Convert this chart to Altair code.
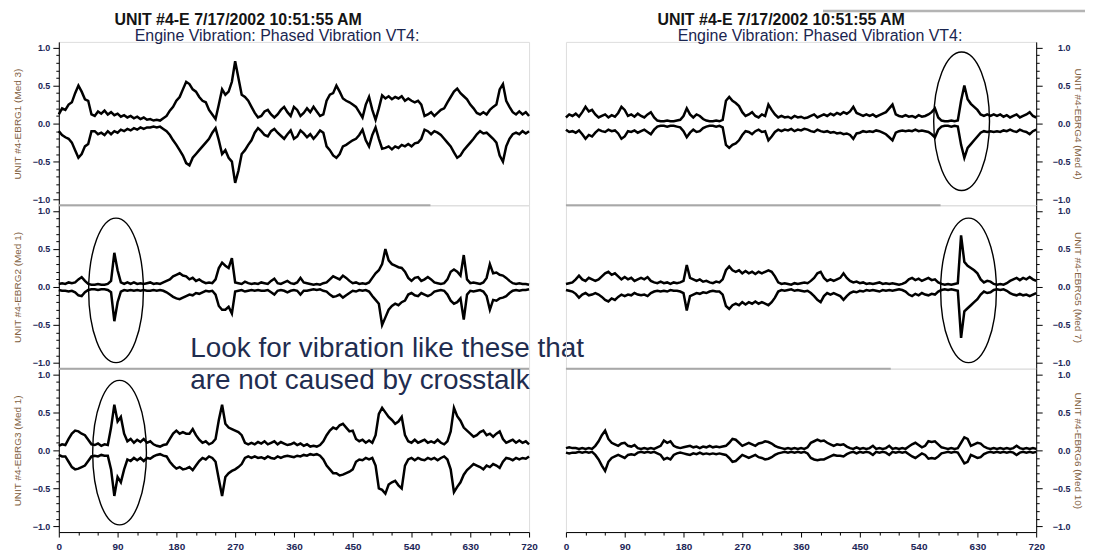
import altair as alt
import pandas as pd

# ---------------- data (envelopes, every 5 degrees) ----------------
DEG = list(range(0, 721, 5))

U1 = [0.12, 0.2, 0.18, 0.25, 0.28, 0.4, 0.5, 0.42, 0.32, 0.3, 0.12, 0.1,
      0.16, 0.13, 0.17, 0.12, 0.15, 0.11, 0.13, 0.09, 0.11, 0.08, 0.1, 0.07,
      0.09, 0.06, 0.08, 0.05, 0.06, 0.04, 0.05, 0.04, 0.07, 0.1, 0.17, 0.22,
      0.3, 0.35, 0.45, 0.55, 0.52, 0.45, 0.42, 0.35, 0.3, 0.28, 0.18, 0.12,
      0.06, 0.25, 0.45, 0.38, 0.42, 0.55, 0.82, 0.6, 0.38, 0.35, 0.3, 0.22,
      0.14, 0.08, 0.1, 0.16, 0.18, 0.12, 0.08, 0.12, 0.18, 0.22, 0.15, 0.1,
      0.22, 0.18, 0.1, 0.14, 0.2, 0.15, 0.22, 0.16, 0.1, 0.12, 0.3, 0.38,
      0.4, 0.5, 0.42, 0.33, 0.3, 0.28, 0.25, 0.22, 0.15, 0.08, 0.25, 0.35,
      0.18, 0.05, 0.2, 0.37, 0.33, 0.36, 0.32, 0.35, 0.33, 0.36, 0.3, 0.33,
      0.3, 0.28, 0.3, 0.25, 0.1, 0.12, 0.15, 0.1, 0.14, 0.18, 0.2, 0.28,
      0.35, 0.42, 0.46, 0.4, 0.36, 0.32, 0.25, 0.2, 0.14, 0.12, 0.15, 0.12,
      0.18, 0.22, 0.25, 0.45, 0.52, 0.3, 0.22, 0.15, 0.12, 0.16, 0.12, 0.15,
      0.1]
L1 = [-0.1, -0.15, -0.18, -0.2, -0.25, -0.35, -0.45, -0.4, -0.3, -0.27, -0.1, -0.1,
      -0.14, -0.12, -0.15, -0.1, -0.14, -0.1, -0.12, -0.08, -0.1, -0.07, -0.09, -0.06,
      -0.08, -0.05, -0.07, -0.05, -0.05, -0.04, -0.05, -0.04, -0.07, -0.1, -0.15, -0.22,
      -0.28, -0.35, -0.42, -0.52, -0.55, -0.45, -0.4, -0.35, -0.3, -0.25, -0.2, -0.12,
      -0.06, -0.22, -0.4, -0.35, -0.45, -0.5, -0.78, -0.62, -0.4, -0.35, -0.28, -0.22,
      -0.12, -0.06, -0.1, -0.15, -0.17, -0.1, -0.07, -0.12, -0.16, -0.2, -0.14, -0.09,
      -0.2, -0.17, -0.09, -0.13, -0.18, -0.14, -0.2, -0.15, -0.09, -0.12, -0.3, -0.35,
      -0.42, -0.45, -0.4, -0.3, -0.28, -0.25, -0.22, -0.2, -0.15, -0.08, -0.22, -0.3,
      -0.15, -0.05, -0.2, -0.33, -0.32, -0.3, -0.34, -0.3, -0.32, -0.28, -0.3, -0.27,
      -0.3, -0.26, -0.25, -0.2, -0.08, -0.1, -0.14, -0.1, -0.12, -0.15, -0.2, -0.25,
      -0.3, -0.38, -0.45, -0.42, -0.35, -0.3, -0.25, -0.2, -0.14, -0.1, -0.13, -0.12,
      -0.16, -0.2, -0.25, -0.42, -0.5, -0.3, -0.2, -0.14, -0.12, -0.14, -0.1, -0.13,
      -0.1]

U2 = [0.04, 0.05, 0.04, 0.06, 0.05, 0.06, 0.1, 0.13, 0.08, 0.04, 0.03, 0.03,
      0.04, 0.03, 0.03, 0.04, 0.08, 0.45, 0.22, 0.06, 0.04, 0.06, 0.04, 0.06,
      0.04, 0.05, 0.04, 0.05, 0.06, 0.04, 0.05, 0.04, 0.06, 0.08, 0.1, 0.14,
      0.16, 0.18, 0.15, 0.14, 0.1, 0.12, 0.08, 0.1, 0.07, 0.05, 0.06, 0.05,
      0.1, 0.25, 0.32, 0.28, 0.25, 0.38, 0.06, 0.05, 0.04, 0.07, 0.05, 0.04,
      0.05, 0.04, 0.06, 0.05, 0.04, 0.08, 0.11, 0.05, 0.04, 0.06, 0.08, 0.05,
      0.04, 0.06, 0.12, 0.06, 0.05, 0.04, 0.03, 0.04, 0.03, 0.05, 0.06, 0.1,
      0.14, 0.12, 0.1, 0.15, 0.12, 0.08, 0.05, 0.06, 0.04, 0.05, 0.04, 0.06,
      0.12, 0.18, 0.22, 0.3, 0.5, 0.35, 0.3, 0.28, 0.26, 0.25, 0.2, 0.12,
      0.08, 0.12, 0.13, 0.08, 0.1, 0.13, 0.1, 0.06, 0.05, 0.04, 0.05, 0.1,
      0.2, 0.23, 0.2, 0.15, 0.42, 0.1, 0.05, 0.06, 0.05, 0.04, 0.06, 0.12,
      0.3, 0.18, 0.19, 0.16, 0.15, 0.12, 0.08, 0.05, 0.04, 0.05, 0.04, 0.04,
      0.03]
L2 = [-0.04, -0.05, -0.05, -0.06, -0.05, -0.07, -0.11, -0.12, -0.07, -0.04, -0.03, -0.03,
      -0.04, -0.03, -0.03, -0.04, -0.07, -0.45, -0.2, -0.06, -0.04, -0.05, -0.04, -0.05,
      -0.04, -0.05, -0.04, -0.05, -0.05, -0.04, -0.05, -0.04, -0.05, -0.07, -0.1, -0.13,
      -0.15, -0.16, -0.14, -0.12, -0.1, -0.11, -0.08, -0.09, -0.07, -0.05, -0.06, -0.05,
      -0.1, -0.25, -0.3, -0.3, -0.26, -0.35, -0.06, -0.05, -0.04, -0.06, -0.05, -0.04,
      -0.05, -0.04, -0.05, -0.05, -0.04, -0.07, -0.1, -0.05, -0.04, -0.05, -0.07, -0.05,
      -0.04, -0.05, -0.1, -0.05, -0.05, -0.04, -0.03, -0.04, -0.03, -0.05, -0.06, -0.1,
      -0.13, -0.12, -0.1, -0.14, -0.11, -0.08, -0.05, -0.06, -0.04, -0.05, -0.04, -0.06,
      -0.12, -0.17, -0.22, -0.5, -0.4, -0.3, -0.25, -0.22, -0.24, -0.2, -0.18, -0.1,
      -0.08, -0.11, -0.12, -0.08, -0.1, -0.12, -0.1, -0.06, -0.05, -0.04, -0.05, -0.1,
      -0.18, -0.22, -0.2, -0.15, -0.43, -0.1, -0.05, -0.06, -0.05, -0.04, -0.06, -0.12,
      -0.3, -0.17, -0.18, -0.15, -0.14, -0.12, -0.08, -0.05, -0.04, -0.05, -0.04, -0.04,
      -0.03]

U3 = [0.06, 0.08, 0.07, 0.15, 0.22, 0.26, 0.25, 0.22, 0.2, 0.14, 0.08, 0.07,
      0.09, 0.06, 0.08, 0.07, 0.3, 0.6, 0.38, 0.44, 0.22, 0.12, 0.15, 0.1,
      0.14, 0.11, 0.15, 0.1, 0.12, 0.08, 0.06, 0.05, 0.07, 0.08, 0.15, 0.22,
      0.26, 0.22, 0.24, 0.22, 0.22, 0.28, 0.2, 0.14, 0.1, 0.12, 0.08, 0.1,
      0.15, 0.4, 0.6, 0.35, 0.3, 0.28, 0.26, 0.24, 0.2, 0.1, 0.08, 0.1,
      0.08, 0.11, 0.09, 0.12, 0.08, 0.1, 0.12, 0.08, 0.11, 0.09, 0.07, 0.08,
      0.1, 0.07, 0.09, 0.06, 0.08, 0.05, 0.06, 0.05, 0.07, 0.12, 0.2, 0.26,
      0.3, 0.28, 0.33, 0.35, 0.3, 0.25, 0.26, 0.15, 0.12, 0.14, 0.1, 0.13,
      0.1, 0.2, 0.48, 0.56, 0.5, 0.44, 0.4, 0.35, 0.38, 0.44, 0.2, 0.12,
      0.1, 0.14, 0.1, 0.12, 0.14, 0.1, 0.12, 0.1, 0.14, 0.1, 0.08, 0.12,
      0.25, 0.56, 0.45, 0.39, 0.3, 0.26, 0.22, 0.18, 0.2, 0.24, 0.26, 0.2,
      0.22, 0.18, 0.22, 0.25, 0.15, 0.1, 0.12, 0.14, 0.1, 0.13, 0.1, 0.12,
      0.08]
L3 = [-0.06, -0.08, -0.08, -0.15, -0.22, -0.25, -0.24, -0.22, -0.2, -0.14, -0.08, -0.07,
      -0.08, -0.06, -0.07, -0.07, -0.25, -0.6, -0.35, -0.42, -0.25, -0.12, -0.14, -0.1,
      -0.13, -0.1, -0.14, -0.1, -0.11, -0.08, -0.06, -0.05, -0.07, -0.08, -0.15, -0.2,
      -0.24, -0.22, -0.25, -0.24, -0.22, -0.26, -0.2, -0.14, -0.1, -0.12, -0.08, -0.1,
      -0.15, -0.38, -0.6, -0.35, -0.3, -0.27, -0.25, -0.22, -0.18, -0.1, -0.08, -0.1,
      -0.08, -0.1, -0.09, -0.11, -0.08, -0.1, -0.11, -0.08, -0.1, -0.08, -0.07, -0.08,
      -0.09, -0.07, -0.08, -0.06, -0.07, -0.05, -0.06, -0.05, -0.07, -0.12, -0.2, -0.25,
      -0.3, -0.3, -0.33, -0.32, -0.3, -0.28, -0.25, -0.15, -0.12, -0.13, -0.1, -0.12,
      -0.1, -0.2, -0.5, -0.52, -0.57, -0.45, -0.42, -0.4, -0.46, -0.5, -0.2, -0.12,
      -0.1, -0.13, -0.1, -0.12, -0.13, -0.1, -0.12, -0.1, -0.13, -0.1, -0.08, -0.12,
      -0.25, -0.55, -0.48, -0.42, -0.32, -0.26, -0.22, -0.18, -0.2, -0.22, -0.25, -0.2,
      -0.22, -0.18, -0.2, -0.23, -0.15, -0.1, -0.11, -0.13, -0.1, -0.12, -0.1, -0.11,
      -0.08]

U4 = [0.08, 0.12, 0.1, 0.13, 0.09, 0.15, 0.22, 0.16, 0.18, 0.12, 0.08, 0.1,
      0.12, 0.08, 0.11, 0.09, 0.14, 0.22, 0.18, 0.1, 0.12, 0.09, 0.13, 0.1,
      0.08, 0.12, 0.15, 0.08, 0.04, 0.03, 0.03, 0.04, 0.03, 0.03, 0.04, 0.05,
      0.1, 0.2, 0.12, 0.08, 0.12, 0.1, 0.06, 0.04, 0.03, 0.03, 0.04, 0.03,
      0.05, 0.3, 0.35, 0.3, 0.27, 0.23, 0.15, 0.1, 0.12, 0.15, 0.1, 0.08,
      0.12, 0.1, 0.25, 0.18, 0.12, 0.08, 0.1, 0.08, 0.09, 0.07, 0.1, 0.08,
      0.09, 0.07, 0.08, 0.1, 0.12, 0.08, 0.1, 0.12, 0.1, 0.13, 0.11, 0.14,
      0.12, 0.15, 0.13, 0.16, 0.22, 0.14, 0.12, 0.1, 0.12, 0.1, 0.12, 0.09,
      0.11, 0.13, 0.15, 0.2, 0.25, 0.12, 0.1, 0.09, 0.11, 0.09, 0.1, 0.08,
      0.11, 0.09, 0.1, 0.12, 0.15, 0.2, 0.08, 0.04, 0.03, 0.03, 0.04, 0.03,
      0.04, 0.3, 0.5, 0.32, 0.26, 0.22, 0.18, 0.12, 0.1, 0.12, 0.1, 0.12,
      0.1, 0.12, 0.09, 0.11, 0.08, 0.1, 0.12, 0.08, 0.1, 0.12, 0.15, 0.1,
      0.08]
L4 = [-0.08, -0.11, -0.1, -0.12, -0.09, -0.14, -0.2, -0.15, -0.17, -0.12, -0.08, -0.1,
      -0.11, -0.08, -0.1, -0.09, -0.13, -0.2, -0.17, -0.1, -0.11, -0.09, -0.12, -0.1,
      -0.08, -0.11, -0.14, -0.08, -0.04, -0.03, -0.03, -0.04, -0.03, -0.03, -0.04, -0.05,
      -0.1, -0.18, -0.12, -0.08, -0.11, -0.1, -0.06, -0.04, -0.03, -0.03, -0.04, -0.03,
      -0.05, -0.28, -0.32, -0.28, -0.26, -0.22, -0.15, -0.1, -0.11, -0.14, -0.1, -0.08,
      -0.11, -0.1, -0.22, -0.17, -0.11, -0.08, -0.1, -0.08, -0.09, -0.07, -0.1, -0.08,
      -0.09, -0.07, -0.08, -0.1, -0.11, -0.08, -0.1, -0.11, -0.1, -0.12, -0.11, -0.13,
      -0.12, -0.14, -0.13, -0.15, -0.2, -0.13, -0.12, -0.1, -0.11, -0.1, -0.11, -0.09,
      -0.1, -0.12, -0.14, -0.18, -0.22, -0.12, -0.1, -0.09, -0.1, -0.09, -0.1, -0.08,
      -0.1, -0.09, -0.1, -0.11, -0.14, -0.18, -0.08, -0.04, -0.03, -0.03, -0.04, -0.03,
      -0.04, -0.28, -0.45, -0.32, -0.27, -0.22, -0.17, -0.12, -0.1, -0.11, -0.1, -0.11,
      -0.1, -0.11, -0.09, -0.1, -0.08, -0.1, -0.11, -0.08, -0.1, -0.11, -0.14, -0.1,
      -0.08]

U5 = [0.04, 0.05, 0.06, 0.1, 0.15, 0.1, 0.08, 0.12, 0.1, 0.08, 0.1, 0.14,
      0.18, 0.2, 0.16, 0.18, 0.14, 0.1, 0.13, 0.1, 0.12, 0.08, 0.1, 0.12,
      0.1, 0.13, 0.08, 0.06, 0.05, 0.07, 0.05, 0.06, 0.04, 0.06, 0.05, 0.06,
      0.08, 0.29, 0.12, 0.1, 0.08, 0.1, 0.07, 0.08, 0.06, 0.05, 0.07, 0.06,
      0.1, 0.22, 0.27, 0.22, 0.2, 0.22, 0.18, 0.21, 0.18, 0.2, 0.17, 0.2,
      0.18, 0.2, 0.22, 0.2, 0.14, 0.06, 0.04, 0.05, 0.04, 0.03, 0.05, 0.04,
      0.05, 0.06, 0.05, 0.08, 0.12, 0.18, 0.2, 0.12, 0.08, 0.1, 0.08, 0.1,
      0.12, 0.18, 0.12, 0.08, 0.06, 0.07, 0.05, 0.06, 0.04, 0.05, 0.04, 0.05,
      0.06, 0.04, 0.05, 0.04, 0.05, 0.04, 0.03, 0.04, 0.06, 0.1, 0.12, 0.09,
      0.11, 0.08, 0.1, 0.12, 0.09, 0.1, 0.06, 0.04, 0.03, 0.04, 0.03, 0.04,
      0.05, 0.68, 0.33, 0.28, 0.25, 0.22, 0.18, 0.1, 0.06, 0.08, 0.07, 0.04,
      0.03, 0.04, 0.03, 0.05, 0.08, 0.1, 0.12, 0.09, 0.12, 0.1, 0.13, 0.1,
      0.08]
L5 = [-0.04, -0.05, -0.06, -0.09, -0.14, -0.1, -0.08, -0.11, -0.1, -0.08, -0.1, -0.13,
      -0.17, -0.19, -0.15, -0.17, -0.13, -0.1, -0.12, -0.1, -0.11, -0.08, -0.1, -0.11,
      -0.1, -0.12, -0.08, -0.06, -0.05, -0.06, -0.05, -0.06, -0.04, -0.05, -0.05, -0.06,
      -0.08, -0.31, -0.12, -0.1, -0.08, -0.09, -0.07, -0.08, -0.06, -0.05, -0.06, -0.06,
      -0.1, -0.25, -0.29, -0.24, -0.22, -0.24, -0.2, -0.23, -0.2, -0.22, -0.19, -0.22,
      -0.2, -0.22, -0.24, -0.2, -0.14, -0.06, -0.04, -0.05, -0.04, -0.03, -0.05, -0.04,
      -0.05, -0.06, -0.05, -0.08, -0.12, -0.17, -0.2, -0.12, -0.08, -0.1, -0.08, -0.1,
      -0.12, -0.17, -0.12, -0.08, -0.06, -0.07, -0.05, -0.06, -0.04, -0.05, -0.04, -0.05,
      -0.06, -0.04, -0.05, -0.04, -0.05, -0.04, -0.03, -0.04, -0.06, -0.1, -0.12, -0.09,
      -0.11, -0.08, -0.1, -0.11, -0.09, -0.1, -0.06, -0.04, -0.03, -0.04, -0.03, -0.04,
      -0.05, -0.67, -0.32, -0.28, -0.24, -0.2, -0.16, -0.1, -0.06, -0.08, -0.07, -0.04,
      -0.03, -0.04, -0.03, -0.05, -0.08, -0.1, -0.11, -0.09, -0.11, -0.1, -0.12, -0.1,
      -0.08]

U6 = [0.03, 0.04, 0.03, 0.03, 0.02, 0.03, 0.02, 0.03, 0.02, 0.06, 0.12, 0.2,
      0.26, 0.15, 0.1, 0.08, 0.06, 0.09, 0.1, 0.06, 0.05, 0.07, 0.03, 0.02,
      0.03, 0.02, 0.03, 0.02, 0.04, 0.06, 0.13, 0.1, 0.12, 0.06, 0.04, 0.03,
      0.04, 0.05, 0.06, 0.04, 0.05, 0.03, 0.05, 0.04, 0.06, 0.04, 0.05, 0.04,
      0.05, 0.06, 0.1, 0.15, 0.14, 0.1, 0.06, 0.08, 0.1, 0.08, 0.06, 0.09,
      0.1, 0.12, 0.11, 0.09, 0.06, 0.04, 0.03, 0.02, 0.03, 0.02, 0.03, 0.02,
      0.03, 0.02, 0.04, 0.1, 0.12, 0.14, 0.12, 0.13, 0.1, 0.08, 0.06, 0.08,
      0.07, 0.08, 0.05, 0.03, 0.02, 0.04, 0.02, 0.03, 0.02, 0.03, 0.06, 0.02,
      0.03, 0.02, 0.03, 0.06, 0.02, 0.03, 0.02, 0.03, 0.02, 0.05, 0.08, 0.1,
      0.07, 0.04, 0.06, 0.12, 0.11, 0.12, 0.08, 0.04, 0.03, 0.02, 0.03, 0.02,
      0.03, 0.1, 0.17, 0.15, 0.06, 0.08, 0.1, 0.09, 0.05, 0.03, 0.02, 0.03,
      0.02, 0.03, 0.02, 0.03, 0.02, 0.03, 0.06, 0.03, 0.02, 0.03, 0.02, 0.03,
      0.02]
L6 = [-0.03, -0.04, -0.03, -0.03, -0.02, -0.03, -0.02, -0.03, -0.02, -0.06, -0.12, -0.2,
      -0.27, -0.15, -0.1, -0.08, -0.06, -0.08, -0.1, -0.06, -0.05, -0.06, -0.03, -0.02,
      -0.03, -0.02, -0.03, -0.02, -0.04, -0.06, -0.12, -0.1, -0.12, -0.06, -0.04, -0.03,
      -0.04, -0.05, -0.06, -0.04, -0.05, -0.03, -0.05, -0.04, -0.05, -0.04, -0.05, -0.04,
      -0.05, -0.06, -0.1, -0.15, -0.14, -0.1, -0.06, -0.08, -0.1, -0.08, -0.06, -0.09,
      -0.1, -0.12, -0.11, -0.09, -0.06, -0.04, -0.03, -0.02, -0.03, -0.02, -0.03, -0.02,
      -0.03, -0.02, -0.04, -0.1, -0.12, -0.13, -0.12, -0.12, -0.1, -0.08, -0.06, -0.07,
      -0.07, -0.08, -0.05, -0.03, -0.02, -0.04, -0.02, -0.03, -0.02, -0.03, -0.06, -0.02,
      -0.03, -0.02, -0.03, -0.06, -0.02, -0.03, -0.02, -0.03, -0.02, -0.05, -0.08, -0.1,
      -0.07, -0.04, -0.06, -0.11, -0.1, -0.11, -0.08, -0.04, -0.03, -0.02, -0.03, -0.02,
      -0.03, -0.1, -0.17, -0.15, -0.06, -0.08, -0.1, -0.09, -0.05, -0.03, -0.02, -0.03,
      -0.02, -0.03, -0.02, -0.03, -0.02, -0.03, -0.06, -0.03, -0.02, -0.03, -0.02, -0.03,
      -0.02]

for arr in (U1, L1, U2, L2, U3, L3, U4, L4, U5, L5, U6, L6):
    assert len(arr) == len(DEG), len(arr)

TITLE_1 = "UNIT #4-E 7/17/2002 10:51:55 AM"
TITLE_2 = "Engine Vibration: Phased Vibration VT4:"
Y_TITLES = ["UNIT #4-EBRG1 (Med 3)", "UNIT #4-EBRG2 (Med 1)", "UNIT #4-EBRG3 (Med 1)",
            "UNIT #4-EBRG4 (Med 4)", "UNIT #4-EBRG5 (Med 7)", "UNIT #4-EBRG6 (Med 10)"]
NOTE_1 = "Look for vibration like these that"
NOTE_2 = "are not caused by crosstalk"
X_TICKS = [0, 30, 60, 90, 120, 150, 180, 210, 240, 270, 300, 330, 360, 390, 420, 450,
           480, 510, 540, 570, 600, 630, 660, 690, 720]
Y_TICKS = [-1.0, -0.9, -0.8, -0.7, -0.6, -0.5, -0.4, -0.3, -0.2, -0.1, 0.0,
           0.1, 0.2, 0.3, 0.4, 0.5, 0.6, 0.7, 0.8, 0.9, 1.0]
# circled events: (degree, value, width px, height px)
ELL_2 = (87.6, -0.045, 55, 145)
ELL_3 = (93.0, -0.03, 54, 145)
ELL_4 = (605.8, 0.03, 56, 139)
ELL_5 = (616.4, -0.045, 56, 145)

# ---------------- styling ----------------
FONT = "Liberation Sans"
INK = "black"
LABEL_C = "#1c2657"
ATITLE_C = "#82613f"
NOTE_C = "#1f2d50"
W, H = 472, 164
LW = 2.5
XS = alt.Scale(domain=[0, 720], nice=False, zero=False)
YS = alt.Scale(domain=[-1.075, 1.075], nice=False, zero=False)


def y_axis(orient, cond):
    major = "abs(datum.value * 2 - round(datum.value * 2)) < 0.001"
    kw = dict(values=Y_TICKS, format=".1f", labelExpr=major + " ? datum.label : ''",
              orient=orient, labelOverlap=False, labelFont=FONT, labelFontSize=9,
              labelFontWeight="bold", labelColor=LABEL_C, titleFont=FONT, titleFontSize=10,
              titleFontWeight="normal", titleColor=ATITLE_C, domainColor=INK,
              tickColor=INK, grid=False)
    if cond:
        kw["tickSize"] = {"condition": {"test": major, "value": 6}, "value": 3}
    else:
        kw["tickSize"] = 5
    if orient == "left":
        kw.update(labelPadding=3, minExtent=28, maxExtent=28, titlePadding=8)
    else:
        kw.update(labelAlign="right", labelPadding=28, minExtent=35, maxExtent=35, titlePadding=1)
    return alt.Axis(**kw)


def x_axis(cond):
    major = "datum.value % 90 === 0"
    kw = dict(values=X_TICKS, format="d", labelExpr=major + " ? datum.label : ''",
              labelOverlap=False, labelFlush=False, labelFont=FONT, labelFontSize=10,
              labelFontWeight="bold", labelColor=LABEL_C, labelPadding=4,
              domainColor=INK, tickColor=INK, grid=False)
    if cond:
        kw["tickSize"] = {"condition": {"test": major, "value": 5}, "value": 3}
    else:
        kw["tickSize"] = 4
    return alt.Axis(**kw)


def text_layer(text, x, y, size, weight, color, align="center", baseline="alphabetic"):
    def f(X, Y):
        return alt.Chart(pd.DataFrame({"t": [text]})).mark_text(
            align=align, baseline=baseline, font=FONT, fontSize=size,
            fontWeight=weight, color=color).encode(
            text="t:N", x=alt.value(x), y=alt.value(y))
    return f


def rule_layer(x1, x2, y, color, width):
    def f(X, Y):
        return alt.Chart(pd.DataFrame({"k": [0]})).mark_rule(
            color=color, strokeWidth=width).encode(
            x=alt.value(x1), x2=alt.value(x2), y=alt.value(y))
    return f


def ellipse_layer(spec):
    deg, yc, wpx, hpx = spec
    a = wpx / hpx
    path = f"M {-a:.3f},0 A {a:.3f},1 0 1,1 {a:.3f},0 A {a:.3f},1 0 1,1 {-a:.3f},0 Z"

    def f(X, Y):
        d = pd.DataFrame({"deg": [deg], "yc": [yc]})
        return alt.Chart(d).mark_point(shape=path, filled=False, color=INK, opacity=1,
                                       strokeWidth=1.4).encode(
            x=X, y=Y("yc"), size=alt.value(hpx * hpx))
    return f


def panel(up, lo, ytitle, orient, bottom, extras, cond):
    df = pd.DataFrame({"deg": DEG, "up": up, "lo": lo})
    X = alt.X("deg:Q", scale=XS, axis=x_axis(cond) if bottom else None, title=None)
    yax = y_axis(orient, cond)

    def Y(f):
        return alt.Y(f + ":Q", scale=YS, axis=yax, title=ytitle)

    base = alt.Chart(df)
    layers = [
        base.mark_line(color=INK, strokeWidth=LW, strokeJoin="miter").encode(x=X, y=Y("up")),
        base.mark_line(color=INK, strokeWidth=LW, strokeJoin="miter").encode(x=X, y=Y("lo")),
    ]
    for e in extras:
        layers.append(e(X, Y))
    return alt.layer(*layers).properties(width=W, height=H)


def build(cond):
    p1 = panel(U1, L1, Y_TITLES[0], "left", False, [
        text_layer(TITLE_1, 180, -17, 16, "bold", "#141414"),
        text_layer(TITLE_2, 219, -1, 16, "normal", "#1a2550"),
    ], cond)
    p2 = panel(U2, L2, Y_TITLES[1], "left", False, [
        rule_layer(0, 373, 0, "#a8a8a8", 2),
        ellipse_layer(ELL_2),
        text_layer(NOTE_1, 132, 144, 28, "normal", NOTE_C, align="left", baseline="middle"),
    ], cond)
    p3 = panel(U3, L3, Y_TITLES[2], "left", True, [
        rule_layer(0, 472, 0, "#a8a8a8", 2),
        ellipse_layer(ELL_3),
        text_layer(NOTE_2, 132, 12, 28, "normal", NOTE_C, align="left", baseline="middle"),
    ], cond)
    p4 = panel(U4, L4, Y_TITLES[3], "right", False, [
        rule_layer(258, 521, -31, "#b4b4b4", 2.5),
        text_layer(TITLE_1, 216, -17, 16, "bold", "#141414"),
        text_layer(TITLE_2, 255, -1, 16, "normal", "#1a2550"),
        ellipse_layer(ELL_4),
    ], cond)
    p5 = panel(U5, L5, Y_TITLES[4], "right", False, [
        rule_layer(0, 376, 0, "#a8a8a8", 2),
        ellipse_layer(ELL_5),
    ], cond)
    p6 = panel(U6, L6, Y_TITLES[5], "right", True, [
        rule_layer(0, 326, 0, "#a8a8a8", 2),
    ], cond)

    chart = alt.concat(p1, p4, p2, p5, p3, p6, columns=2,
                       spacing={"row": 0, "column": 37}, bounds="flush").properties(
        padding={"left": 4, "top": 0, "right": 0, "bottom": 0}
    ).configure_view(stroke=INK, strokeWidth=1.2).configure(font=FONT)
    return chart


try:
    build(True).save("out.html", embed_options={"renderer": "svg", "actions": False})
except Exception:
    build(False).save("out.html", embed_options={"renderer": "svg", "actions": False})
